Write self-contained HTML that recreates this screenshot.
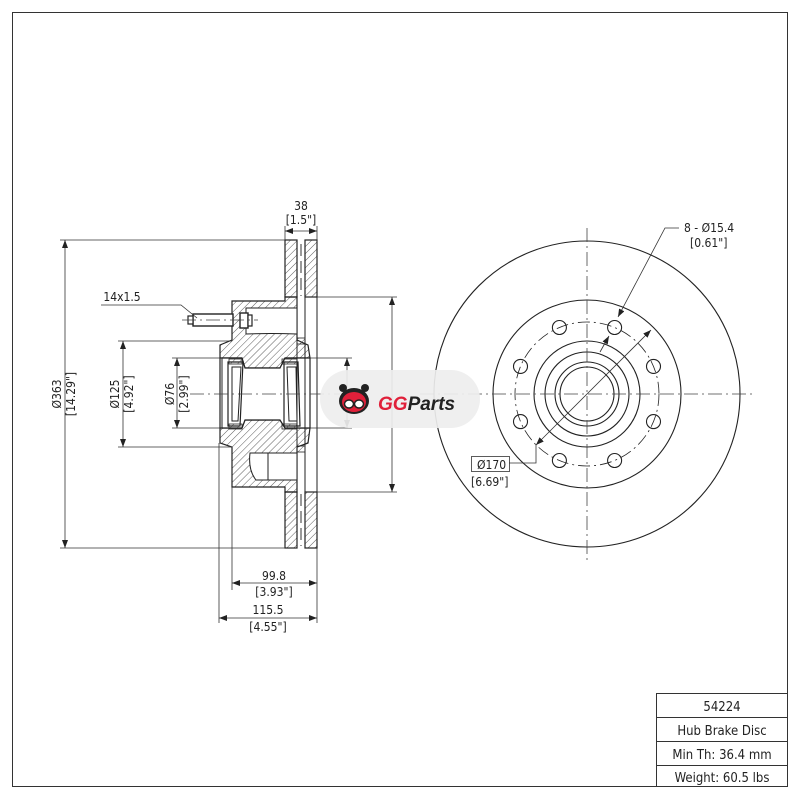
<!DOCTYPE html>
<html><head><meta charset="utf-8"><style>
html,body{margin:0;padding:0;background:#fff}
svg{display:block}
text{font-family:"DejaVu Sans Condensed","Liberation Sans",sans-serif;fill:#222}
</style></head><body>
<svg width="800" height="800" viewBox="0 0 800 800" xmlns="http://www.w3.org/2000/svg">
<defs>
<pattern id="h" width="5" height="5" patternUnits="userSpaceOnUse" patternTransform="rotate(45)">
<line x1="0" y1="0" x2="0" y2="5" stroke="#333" stroke-width="0.8"/>
</pattern>
<marker id="a" markerWidth="8" markerHeight="6" refX="8" refY="3" orient="auto-start-reverse" markerUnits="userSpaceOnUse"><path d="M0,0 L8,3 L0,6z" fill="#222"/></marker>
</defs>
<rect x="12.5" y="12.5" width="775" height="774" fill="none" stroke="#333" stroke-width="1"/>
<g stroke="#333" stroke-width="1" fill="none">
<rect x="656.5" y="693.5" width="131" height="93"/>
<line x1="656" y1="717.5" x2="787" y2="717.5"/>
<line x1="656" y1="741.5" x2="787" y2="741.5"/>
<line x1="656" y1="765.5" x2="787" y2="765.5"/>
</g>
<g font-size="13" text-anchor="middle">
<text x="722" y="711">54224</text>
<text x="722" y="735">Hub Brake Disc</text>
<text x="722" y="759">Min Th: 36.4 mm</text>
<text x="722" y="782">Weight: 60.5 lbs</text>
</g>

<g stroke="#222" stroke-width="1.2">
<rect x="285" y="240" width="12" height="57" fill="url(#h)"/>
<rect x="305" y="240" width="12" height="57" fill="url(#h)"/>
<rect x="285" y="492" width="12" height="56" fill="url(#h)"/>
<rect x="305" y="492" width="12" height="56" fill="url(#h)"/>
<path d="M232,301 L285,301 L285,297 L297,297 L297,340 L308,345 L310,358 L285,358 L280,368 L245,368 L242,358 L220,358 L220,345 L232,340 Z" fill="url(#h)"/>
<path d="M246,334 L246,308 L297,308 L297,334 Q270,333 246,334 Z" fill="#fff" stroke-width="1"/>
<path d="M220,428 L242,428 L245,420 L280,420 L285,428 L310,428 L308,443 L297,447 L297,492 L285,492 L285,487 L232,487 L232,447 L220,443 Z" fill="url(#h)"/>
<path d="M250,453 L297,453 L297,480 L256,480 Q248,470 250,453 Z" fill="#fff" stroke-width="1"/>
<line x1="268" y1="453" x2="268" y2="480" stroke-width="1"/>
<path d="M220,358 L242,358 L245,368 L280,368 L285,358 L310,358 L310,428 L285,428 L280,420 L245,420 L242,428 L220,428 Z" fill="#fff"/>
<path d="M228,362 L243,362 L240,426 L228,426 Z" fill="#fff"/>
<path d="M232,367 L241,367 L238,421 L232,421 Z" fill="none" stroke-width="1"/>
<rect x="229" y="359" width="13" height="5" fill="url(#h)" stroke-width="0.8"/>
<rect x="229" y="424" width="13" height="5" fill="url(#h)" stroke-width="0.8"/>
<path d="M284,362 L298,362 L300,426 L284,426 Z" fill="#fff"/>
<path d="M287,367 L296,367 L297,421 L289,421 Z" fill="none" stroke-width="1"/>
<rect x="282" y="359" width="15" height="5" fill="url(#h)" stroke-width="0.8"/>
<rect x="282" y="424" width="15" height="5" fill="url(#h)" stroke-width="0.8"/>
<line x1="222" y1="358" x2="222" y2="428" stroke-width="1"/>
<rect x="297" y="338" width="8" height="6" fill="url(#h)" stroke-width="0.8"/>
<rect x="297" y="446" width="8" height="6" fill="url(#h)" stroke-width="0.8"/>
<line x1="297" y1="297" x2="297" y2="492" stroke-width="1"/>
<line x1="305" y1="297" x2="305" y2="492" stroke-width="1"/>
<line x1="317" y1="297" x2="317" y2="492" stroke-width="1"/>
<rect x="193" y="314" width="40" height="12" fill="#fff" stroke-width="1.4"/>
<rect x="188" y="316" width="5" height="8" fill="#fff"/>
<rect x="240" y="313" width="8" height="15" fill="#fff" stroke-width="1.4"/>
<rect x="248" y="315" width="4" height="11" fill="#fff"/>
</g>
<g stroke="#333" stroke-width="1" stroke-dasharray="12,5">
<line x1="301" y1="244" x2="301" y2="296"/>
<line x1="301" y1="494" x2="301" y2="546"/>
</g>
<g stroke="#444" stroke-width="0.8" stroke-dasharray="14,4,2,4">
<line x1="190" y1="394" x2="340" y2="394"/>
<line x1="182" y1="320" x2="258" y2="320"/>
</g>
<g stroke="#333" stroke-width="0.8" fill="none">
<line x1="60" y1="240" x2="285" y2="240"/>
<line x1="60" y1="548" x2="285" y2="548"/>
<line x1="65" y1="240" x2="65" y2="548" marker-start="url(#a)" marker-end="url(#a)"/>
<line x1="118" y1="341" x2="232" y2="341"/>
<line x1="118" y1="447" x2="232" y2="447"/>
<line x1="123" y1="341" x2="123" y2="447" marker-start="url(#a)" marker-end="url(#a)"/>
<line x1="172" y1="358" x2="222" y2="358"/>
<line x1="172" y1="428" x2="222" y2="428"/>
<line x1="177" y1="358" x2="177" y2="428" marker-start="url(#a)" marker-end="url(#a)"/>
<line x1="310" y1="358" x2="352" y2="358"/>
<line x1="310" y1="428" x2="352" y2="428"/>
<line x1="347" y1="358" x2="347" y2="428" marker-start="url(#a)" marker-end="url(#a)"/>
<line x1="317" y1="297" x2="397" y2="297"/>
<line x1="317" y1="492" x2="397" y2="492"/>
<line x1="392" y1="297" x2="392" y2="492" marker-start="url(#a)" marker-end="url(#a)"/>
<line x1="285" y1="226" x2="285" y2="240"/>
<line x1="317" y1="226" x2="317" y2="248"/>
<line x1="285" y1="231" x2="317" y2="231" marker-start="url(#a)" marker-end="url(#a)"/>
<line x1="232" y1="487" x2="232" y2="590"/>
<line x1="219" y1="443" x2="219" y2="623"/>
<line x1="317" y1="548" x2="317" y2="623"/>
<line x1="232" y1="583" x2="317" y2="583" marker-start="url(#a)" marker-end="url(#a)"/>
<line x1="219" y1="618" x2="317" y2="618" marker-start="url(#a)" marker-end="url(#a)"/>
<polyline points="101,305 181,305 197,318"/>
</g>
<g font-size="12" text-anchor="middle">
<text x="301" y="210">38</text>
<text x="301" y="224">[1.5"]</text>
<text x="122" y="301">14x1.5</text>
<text x="274" y="580">99.8</text>
<text x="274" y="596">[3.93"]</text>
<text x="268" y="614">115.5</text>
<text x="268" y="631">[4.55"]</text>
<text transform="translate(61,394) rotate(-90)">Ø363</text>
<text transform="translate(75,394) rotate(-90)">[14.29"]</text>
<text transform="translate(119,394) rotate(-90)">Ø125</text>
<text transform="translate(133,394) rotate(-90)">[4.92"]</text>
<text transform="translate(174,394) rotate(-90)">Ø76</text>
<text transform="translate(188,394) rotate(-90)">[2.99"]</text>
</g>

<g stroke="#222" stroke-width="1.1" fill="none">
<circle cx="587" cy="394" r="153"/>
<circle cx="587" cy="394" r="94"/>
<circle cx="587" cy="394" r="53"/>
<circle cx="587" cy="394" r="42"/>
<circle cx="587" cy="394" r="32"/>
<circle cx="587" cy="394" r="27"/>
<circle cx="587" cy="394" r="72" stroke-dasharray="12,4,2,4" stroke-width="0.8"/>
<circle cx="614.6" cy="327.5" r="7"/>
<circle cx="653.5" cy="366.4" r="7"/>
<circle cx="653.5" cy="421.6" r="7"/>
<circle cx="614.6" cy="460.5" r="7"/>
<circle cx="559.4" cy="460.5" r="7"/>
<circle cx="520.5" cy="421.6" r="7"/>
<circle cx="520.5" cy="366.4" r="7"/>
<circle cx="559.4" cy="327.5" r="7"/>
</g>
<g stroke="#444" stroke-width="0.8" stroke-dasharray="14,4,2,4">
<line x1="420" y1="394" x2="752" y2="394"/>
<line x1="587" y1="228" x2="587" y2="562"/>
</g>
<g stroke="#333" stroke-width="0.8" fill="none">
<polyline points="679,228 665,228 618,317" marker-end="url(#a)"/>
<line x1="600" y1="352" x2="609" y2="336" marker-end="url(#a)"/>
<line x1="536" y1="445" x2="651" y2="330" marker-start="url(#a)" marker-end="url(#a)"/>
<polyline points="509,463 536,463 536,445"/>
<rect x="471.5" y="456.5" width="38" height="15"/>
</g>
<g font-size="12">
<text x="684" y="232">8 - Ø15.4</text>
<text x="690" y="247">[0.61"]</text>
<text x="477" y="469">Ø170</text>
<text x="471" y="486">[6.69"]</text>
</g>

<rect x="320" y="370" width="160" height="58" rx="29" fill="#eeeeee" opacity="0.92"/>
<g>
<ellipse cx="354" cy="401" rx="15" ry="13" fill="#222"/>
<ellipse cx="354" cy="402" rx="12" ry="10" fill="#e0203a"/>
<circle cx="343" cy="388" r="4" fill="#222"/>
<circle cx="365" cy="388" r="4" fill="#222"/>
<ellipse cx="349" cy="404" rx="4.5" ry="4" fill="#fff" stroke="#222" stroke-width="1.5"/>
<ellipse cx="359" cy="404" rx="4.5" ry="4" fill="#fff" stroke="#222" stroke-width="1.5"/>
</g>
<text x="378" y="410" font-weight="bold" font-style="italic" font-size="19" style="font-family:'Liberation Sans',sans-serif"><tspan style="fill:#e0203a">GG</tspan><tspan style="fill:#222">Parts</tspan></text>
</svg>
</body></html>
